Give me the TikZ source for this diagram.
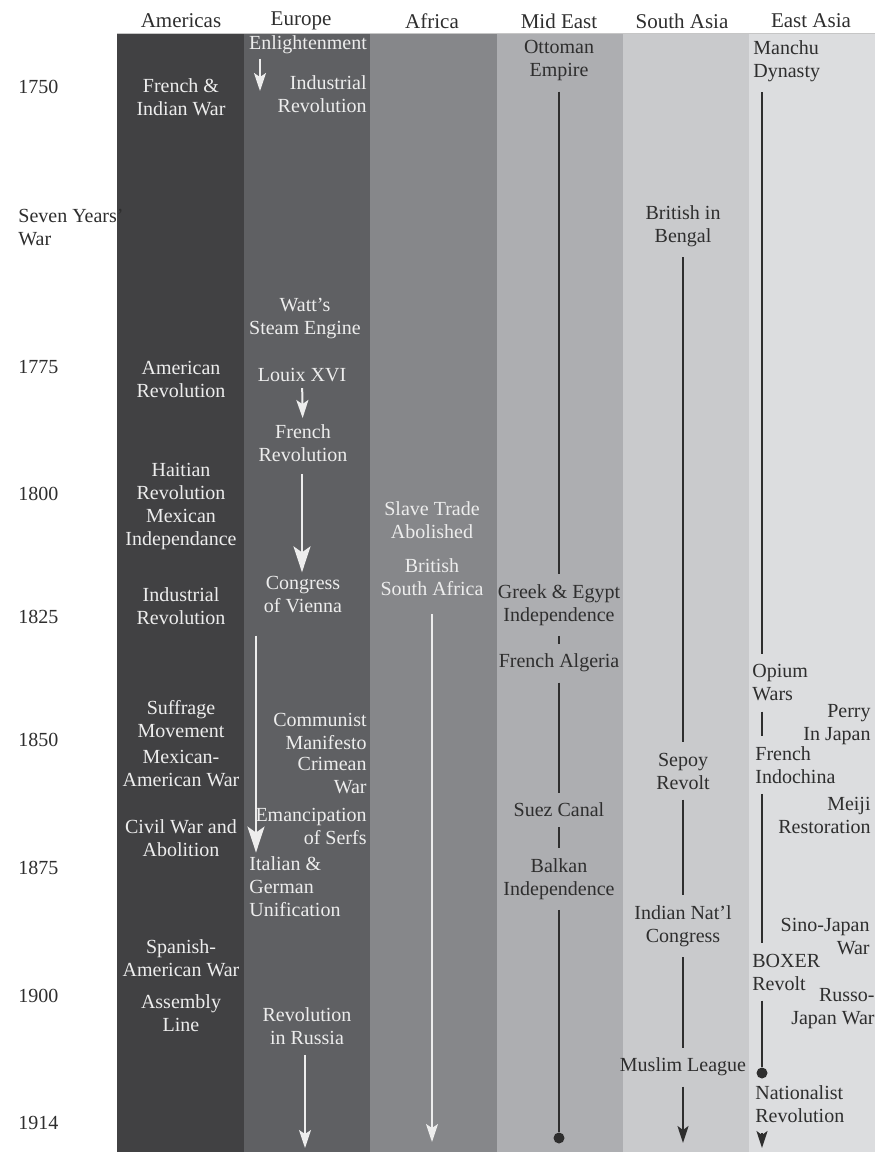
\documentclass[tikz,border=0pt]{standalone}
\usepackage{fontspec}
\setmainfont{Liberation Serif}
\usetikzlibrary{arrows.meta}
\definecolor{c414143}{HTML}{414143}
\definecolor{c5f6063}{HTML}{5f6063}
\definecolor{c86878a}{HTML}{86878a}
\definecolor{cadaeb1}{HTML}{adaeb1}
\definecolor{cc9cacc}{HTML}{c9cacc}
\definecolor{cdcdddf}{HTML}{dcdddf}
\definecolor{wtxt}{HTML}{ededed}
\definecolor{dtxt}{HTML}{2e2e2e}
\begin{document}
\begin{tikzpicture}[x=.5pt,y=-.5pt,
  ev/.style={align=center,inner sep=2pt,font=\fontsize{10}{11.5}\selectfont,text=wtxt},
  evd/.style={ev,text=dtxt},
  evl/.style={evd,anchor=west,align=left},
  evr/.style={evd,anchor=east,align=right},
  hd/.style={font=\fontsize{10.5}{12}\selectfont,text=dtxt,inner sep=1pt},
  yr/.style={anchor=west,align=left,inner sep=2pt,font=\fontsize{10}{11.5}\selectfont,text=dtxt},
  ln/.style={line width=1pt,draw=dtxt,shorten <=3pt,shorten >=3pt},
  war/.style={line width=1pt,draw=wtxt,shorten <=1pt,shorten >=1pt,-{Stealth[length=9pt,width=6pt,inset=2pt]}},
  warbig/.style={war,-{Stealth[length=13pt,width=8.5pt,inset=3pt]}},
  bar/.style={ln,-{Stealth[length=8.5pt,width=5.5pt,inset=2pt]}},
  dot/.style={circle,fill=dtxt,inner sep=0pt,minimum size=5.5pt}]
\useasboundingbox (0,0) rectangle (875,1152);
\foreach \c/\a/\b in {c414143/117/244,c5f6063/244/370,c86878a/370/497,cadaeb1/497/623,cc9cacc/623/749,cdcdddf/749/875}
    \fill[\c](\a,33)rectangle(\b,1152);
\draw[gray!45](117,33)--(875,33);
\foreach \n/\x/\t in {am/181/Americas,eu/301/Europe,af/432/Africa,me/559/Mid East,sa/682/South Asia,ea/811/East Asia}
    \node[hd](h\n) at (\x,21){\t};
\foreach \y/\t in {87/1750,367/1775,494/1800,617/1825,740/1850,868/1875,996/1900,1123/1914}
    \node[yr](y\t) at (14,\y){\t};
\node[yr](ysyw) at (14,227){Seven Years'\\War};
% Americas
\node[ev](am1) at (181,97){French \&\\Indian War};
\node[ev](am2) at (181,379){American\\Revolution};
\node[ev](am3) at (181,481){Haitian\\Revolution};
\node[ev](am4) at (181,529){Mexican\\Independance};
\node[ev](am5) at (181,606){Industrial\\Revolution};
\node[ev](am6) at (181,719){Suffrage\\Movement};
\node[ev](am7) at (181,769){Mexican-\\American War};
\node[ev](am8) at (181,838){Civil War and\\Abolition};
\node[ev](am9) at (181,958){Spanish-\\American War};
\node[ev](am10) at (181,1013){Assembly\\Line};
% Europe
\node[ev](enl) at (308,45){Enlightenment};
\node[ev,anchor=east,align=right](indr) at (371,94){Industrial\\Revolution};
\node[ev](watt) at (305,319){Watt's\\Steam Engine};
\node[ev](louis) at (302,375){Louix XVI};
\node[ev](frrev) at (303,443){French\\Revolution};
\node[ev](congress) at (303,595){Congress\\of Vienna};
\node[ev,anchor=east,align=right](comm) at (371,731){Communist\\Manifesto};
\node[ev,anchor=east,align=right](crim) at (371,776){Crimean\\War};
\node[ev,anchor=east,align=right](emanc) at (371,826){Emancipation\\of Serfs};
\node[ev,anchor=west,align=left](italian) at (245,887){Italian \&\\German\\Unification};
\node[ev](russia) at (307,1026){Revolution\\in Russia};
\coordinate(enlend) at (260,93);
\coordinate(eux) at (256,0);
\coordinate(euend) at (305,1148);
\draw[war,shorten <=0pt](enl.south -| enlend)--(enlend);
\draw[war](louis)--(frrev);
\draw[warbig,shorten <=4pt,shorten >=0pt](frrev.south -| 302,0)--(congress.north -| 302,0);
\draw[warbig,shorten <=9pt,shorten >=0pt](congress.south -| eux)--(italian.north -| eux);
\draw[war,shorten <=3pt,shorten >=0pt](russia.south -| euend)--(euend);
% Africa
\node[ev](slave) at (432,520){Slave Trade\\Abolished};
\node[ev](britsa) at (432,577){British\\South Africa};
\coordinate(afend) at (432,1142);
\draw[war,shorten <=7pt,shorten >=0pt](britsa.south -| afend)--(afend);
% Mid East
\node[evd](otto) at (559,61){Ottoman\\Empire};
\node[evd](greek) at (559,605){Greek \& Egypt\\Independence};
\node[evd](alg) at (559,663){French Algeria};
\node[evd](suez) at (559,810){Suez Canal};
\node[evd](balkan) at (559,879){Balkan\\Independence};
\node[dot](medot) at (559,1138){};
\draw[ln](otto)--(greek);
\draw[ln](greek)--(alg);
\draw[ln](alg)--(suez);
\draw[ln](suez)--(balkan);
\draw[ln,shorten >=0pt](balkan)--(medot);
% South Asia
\node[evd](bengal) at (683,226){British in\\Bengal};
\node[evd](sepoy) at (683,771){Sepoy\\Revolt};
\node[evd](inc) at (683,926){Indian Nat'l\\Congress};
\node[evd](muslim) at (683,1067){Muslim League};
\coordinate(saend) at (683,1143);
\draw[ln](bengal)--(sepoy);
\draw[ln](sepoy)--(inc);
\draw[ln](inc)--(muslim);
\draw[bar,shorten >=0pt](muslim)--(saend);
% East Asia
\node[evl](manchu) at (749,61){Manchu\\Dynasty};
\node[evl](opium) at (748,683){Opium\\Wars};
\node[evr](perry) at (875,725){Perry\\In Japan};
\node[evl](indo) at (751,765){French\\Indochina};
\node[evr](meiji) at (875,815){Meiji\\Restoration};
\node[evr](sino) at (874,937){Sino-Japan\\War};
\node[evl](boxer) at (748,972){BOXER\\Revolt};
\node[evr](russo) at (879,1009){Russo-\\Japan War};
\node[evl](nat) at (751,1104){Nationalist\\Revolution};
\coordinate(eax) at (762,0);
\node[dot](eadot) at (762,1073){};
\coordinate(eaend) at (762,1148);
\draw[ln](manchu.south -| eax)--(opium.north -| eax);
\draw[ln](opium.south -| eax)--(indo.north -| eax);
\draw[ln](indo.south -| eax)--(boxer.north -| eax);
\draw[ln,shorten >=0pt](boxer.south -| eax)--(eadot);
\draw[bar,shorten >=0pt](nat.south -| eax)--(eaend);
\end{tikzpicture}
\end{document}
